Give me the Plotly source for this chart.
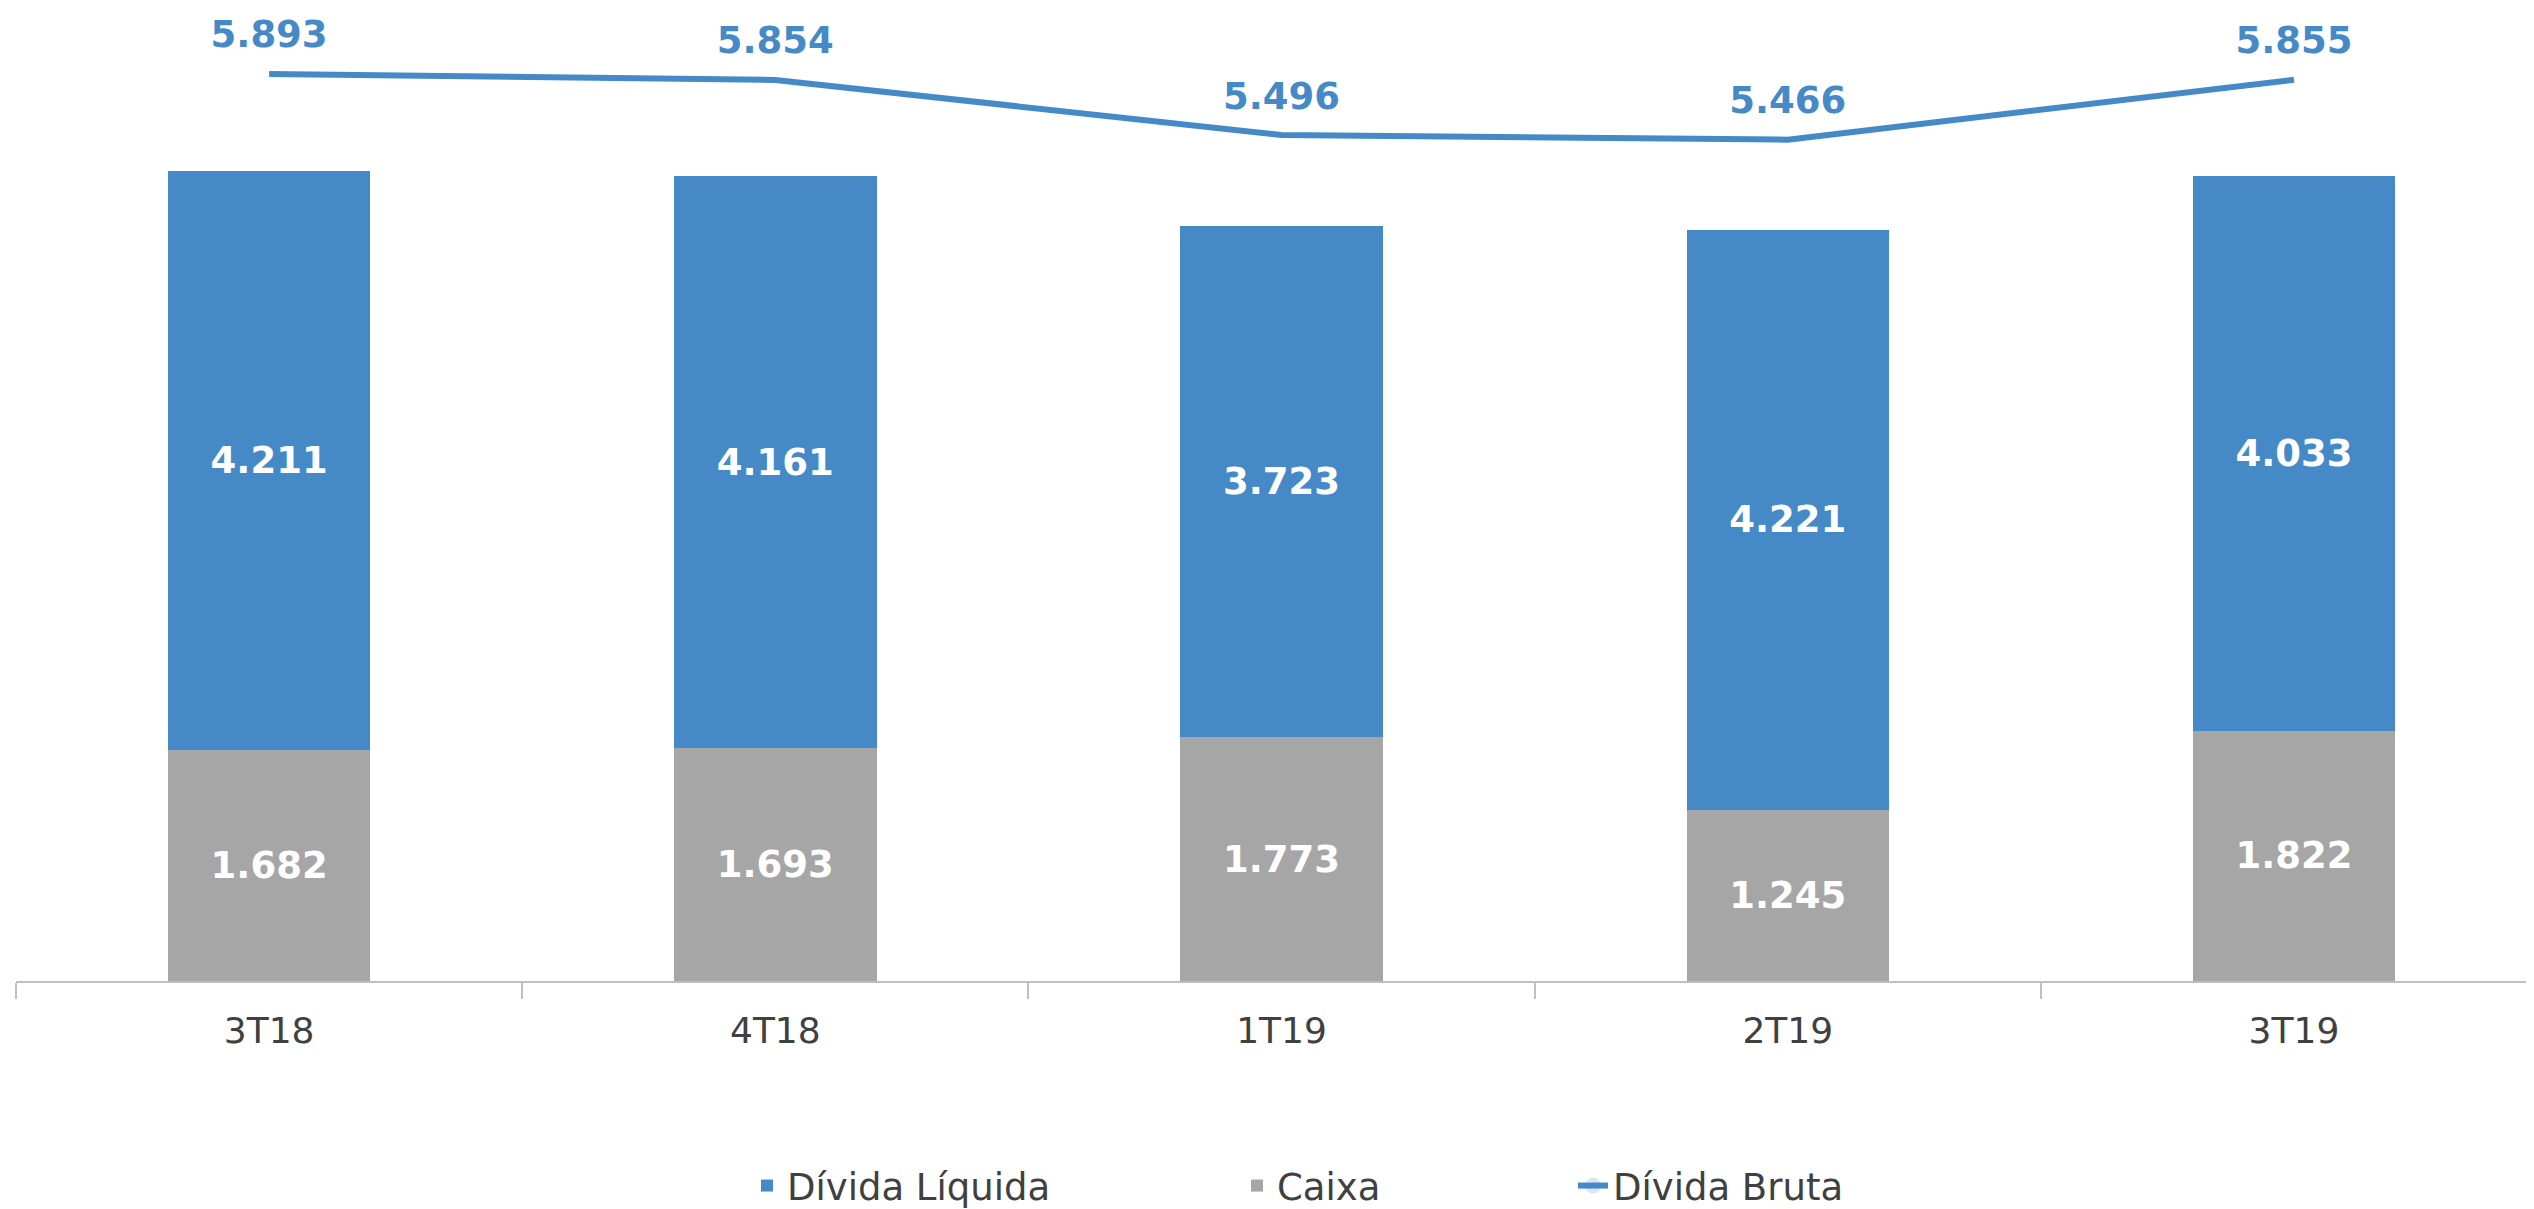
import plotly.graph_objects as go

categories = ["3T18", "4T18", "1T19", "2T19", "3T19"]
caixa = [1682, 1693, 1773, 1245, 1822]
divida_liquida = [4211, 4161, 3723, 4221, 4033]
divida_bruta = [5893, 5854, 5496, 5466, 5855]

BLUE = "#458AC6"
GRAY = "#A6A6A6"
TXT = "#404040"
FONT = "DejaVu Sans"

W, H = 2534, 1209
OFF = 8  # page body margin
ML, MR, MT, MB = 16 - OFF, 0, 19 - OFF, 228 + OFF

fig = go.Figure()
fig.add_trace(go.Bar(
    x=categories, y=caixa, name="Caixa", marker=dict(color=GRAY, line=dict(width=0)),
    width=0.4, texttemplate="%{y:,.0f}", textposition="inside", insidetextanchor="middle",
    textangle=0, textfont=dict(family=FONT, size=37, color="white", weight="bold"),
    legend="legend2", hoverinfo="skip",
))
fig.add_trace(go.Bar(
    x=categories, y=divida_liquida, name="Dívida Líquida", marker=dict(color=BLUE, line=dict(width=0)),
    width=0.4, texttemplate="%{y:,.0f}", textposition="inside", insidetextanchor="middle",
    textangle=0, textfont=dict(family=FONT, size=37, color="white", weight="bold"),
    legend="legend", hoverinfo="skip",
))
fig.add_trace(go.Scatter(
    x=categories, y=divida_bruta, name="Dívida Bruta", yaxis="y2",
    mode="lines+markers+text", line=dict(color=BLUE, width=6),
    marker=dict(size=26, opacity=0, color=BLUE),
    texttemplate="%{y:,.0f}", textposition="top center",
    textfont=dict(family=FONT, size=37, color=BLUE, weight="bold"),
    legend="legend3", hoverinfo="skip", cliponaxis=False,
))

legend_common = dict(orientation="h", xref="container", yref="container",
                     yanchor="middle", y=1 - (1186 - OFF) / H, xanchor="left",
                     font=dict(family=FONT, size=37, color=TXT),
                     bgcolor="rgba(0,0,0,0)", borderwidth=0)

fig.update_layout(
    width=W, height=H,
    margin=dict(l=ML, r=MR, t=MT, b=MB),
    paper_bgcolor="white", plot_bgcolor="white",
    barmode="stack", separators=",.",
    font=dict(family=FONT, color=TXT),
    showlegend=True,
    legend=dict(x=(747 - OFF) / W, **legend_common),
    legend2=dict(x=(1237 - OFF) / W, **legend_common),
    legend3=dict(x=(1573 - OFF) / W, **legend_common),
    xaxis=dict(
        type="category", range=[-0.5, 4.49],
        showline=True, linecolor="#BFBFBF", linewidth=2,
        ticks="outside", tickson="boundaries", ticklen=16, tickcolor="#BFBFBF", tickwidth=2,
        tickfont=dict(family=FONT, size=36, color=TXT), ticklabelstandoff=17,
        showgrid=False, zeroline=False,
    ),
    yaxis=dict(range=[0, 7000], visible=False, showgrid=False, zeroline=False),
    yaxis2=dict(range=[0, 6250], overlaying="y", side="right", visible=False,
                showgrid=False, zeroline=False),
)

fig.write_html("out.html")
